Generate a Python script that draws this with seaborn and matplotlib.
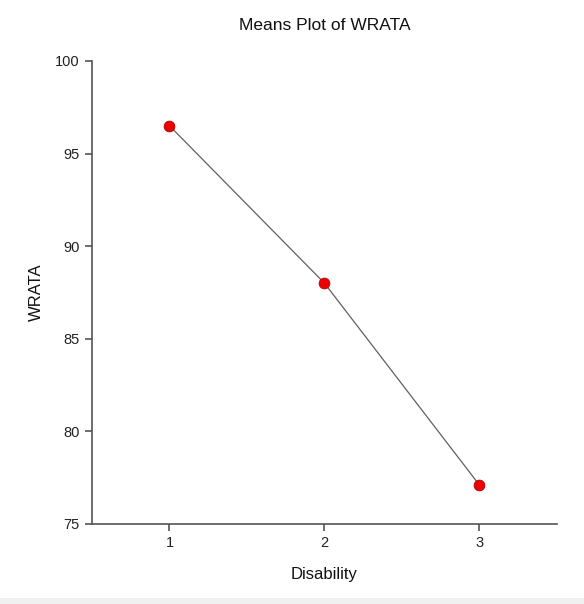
import matplotlib
matplotlib.use("Agg")
import matplotlib.pyplot as plt
import seaborn as sns
import pandas as pd

disability = [1, 2, 3]
wrata_means = [96.5, 88.0, 77.1]
x_ticks = [1, 2, 3]
y_ticks = [75, 80, 85, 90, 95, 100]

df = pd.DataFrame({"Disability": disability, "WRATA": wrata_means})

sns.set_style("ticks")
plt.rcParams["font.family"] = ["Liberation Sans", "DejaVu Sans"]

fig = plt.figure(figsize=(5.84, 6.04), dpi=100)
fig.patch.set_facecolor("white")
ax = fig.add_axes([0.1575, 0.1325, 0.7962, 0.7666])

sns.lineplot(data=df, x="Disability", y="WRATA", ax=ax, color="#606060", linewidth=0.9)
sns.scatterplot(data=df, x="Disability", y="WRATA", ax=ax, color="#ee0000",
                edgecolor="#b00000", linewidth=0.6, s=60, zorder=3)

ax.set_xlim(0.5, 3.5)
ax.set_ylim(75, 100)
ax.set_xticks(x_ticks)
ax.set_xticklabels([str(t) for t in x_ticks])
ax.set_yticks(y_ticks)
ax.set_yticklabels([str(t) for t in y_ticks])
sns.despine(ax=ax)
for s in ["left", "bottom"]:
    ax.spines[s].set_color("#555555")
    ax.spines[s].set_linewidth(1.2)
ax.tick_params(axis="both", colors="#555555", labelcolor="#222222", labelsize=10.5,
               length=5, width=1.2, pad=4)

ax.set_xlabel("Disability", fontsize=12, color="#111111", labelpad=12)
ax.set_ylabel("WRATA", fontsize=12, color="#111111", labelpad=8)
ax.set_title("Means Plot of WRATA", fontsize=12.5, color="#111111", pad=22)

# light gray strip at bottom
fig.patches.append(plt.Rectangle((0, 0), 1, 6/604, transform=fig.transFigure,
                                 facecolor="#f0f0f0", edgecolor="none", zorder=-1))

fig.savefig("out.png", dpi=100, facecolor="white")
